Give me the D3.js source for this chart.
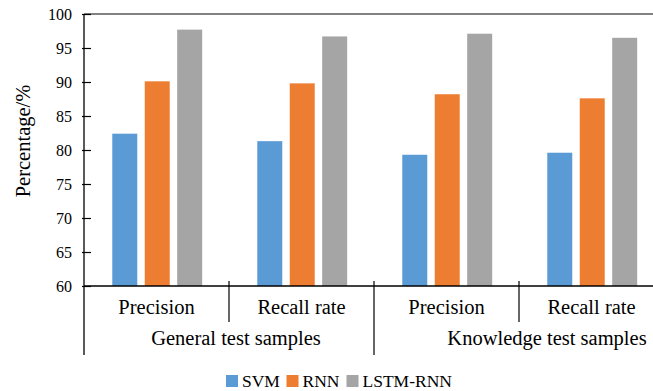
<!DOCTYPE html>
<html>
<head>
<meta charset="utf-8">
<script src="https://cdn.jsdelivr.net/npm/d3@7"></script>
<style>
  html, body { margin: 0; padding: 0; background: #fff; }
  svg { display: block; font-family: "Liberation Serif", "Times New Roman", serif; }
</style>
</head>
<body>
<svg id="chart" width="653" height="391"></svg>
<script>
const groups = ["General test samples", "Knowledge test samples"];
const categories = ["Precision", "Recall rate", "Precision", "Recall rate"];
const series = ["SVM", "RNN", "LSTM-RNN"];
const svmValues = [82.4, 81.3, 79.3, 79.6];
const rnnValues = [90.1, 89.8, 88.2, 87.6];
const lstmValues = [97.7, 96.7, 97.1, 96.5];
const yTicks = [60, 65, 70, 75, 80, 85, 90, 95, 100];
const colors = ["#5B9BD5", "#ED7D31", "#A5A5A5"];

const seriesValues = [svmValues, rnnValues, lstmValues];
const svg = d3.select("#chart");
const mLeft = 84, mRight = 664, mTop = 14, mBottom = 286;
const groupLabelShift = [7, 28];

const x0 = d3.scaleBand().domain(d3.range(categories.length)).range([mLeft, mRight]).padding(0);
const x1 = d3.scaleBand().domain(series)
  .range([x0.bandwidth() * 0.195, x0.bandwidth() * 0.815]).paddingInner(0.23);
const y = d3.scaleLinear().domain([60, 100]).range([mBottom, mTop]);

// top border
svg.append("line").attr("x1", mLeft).attr("x2", 653).attr("y1", y(100)).attr("y2", y(100))
  .attr("stroke", "#595959").attr("stroke-width", 1.5);

// bars
categories.forEach((c, i) => {
  const g = svg.append("g").attr("transform", `translate(${x0(i)},0)`);
  series.forEach((s, j) => {
    const v = seriesValues[j][i];
    g.append("rect").attr("x", x1(s)).attr("width", x1.bandwidth())
      .attr("y", y(v)).attr("height", y(60) - y(v)).attr("fill", colors[j]);
  });
});

// y axis
const yAxis = d3.axisLeft(y).tickValues(yTicks).tickSizeInner(-7).tickSizeOuter(0).tickPadding(12);
const ya = svg.append("g").attr("transform", `translate(${mLeft},0)`).call(yAxis);
ya.select(".domain").remove();
ya.selectAll(".tick line").attr("x1", -2).attr("x2", 7).attr("stroke", "#000").attr("stroke-width", 1.2);
ya.selectAll(".tick text").attr("font-size", 16).attr("fill", "#000")
  .attr("font-family", "Liberation Serif, Times New Roman, serif").attr("x", -12);
svg.append("line").attr("x1", mLeft).attr("x2", mLeft).attr("y1", mTop).attr("y2", 355)
  .attr("stroke", "#000").attr("stroke-width", 1.3);

// x axis baseline
svg.append("line").attr("x1", mLeft).attr("x2", 653).attr("y1", mBottom).attr("y2", mBottom)
  .attr("stroke", "#000").attr("stroke-width", 1.3);

// category dividers and labels
categories.forEach((c, i) => {
  if (i > 0) {
    const isGroup = i % 2 === 0;
    svg.append("line").attr("x1", x0(i)).attr("x2", x0(i))
      .attr("y1", mBottom - 5).attr("y2", isGroup ? 355 : 322)
      .attr("stroke", "#000").attr("stroke-width", 1.2);
  }
  svg.append("text").attr("x", x0(i) + x0.bandwidth() / 2).attr("y", 314)
    .attr("text-anchor", "middle").attr("font-size", 20.5).attr("fill", "#000").text(c);
});
groups.forEach((gname, k) => {
  const cx = (x0(k * 2) + x0(k * 2 + 1) + x0.bandwidth()) / 2 + groupLabelShift[k];
  svg.append("text").attr("x", cx).attr("y", 345)
    .attr("text-anchor", "middle").attr("font-size", 20.5).attr("fill", "#000").text(gname);
});

// y title
svg.append("text").attr("transform", `translate(30,141) rotate(-90)`)
  .attr("text-anchor", "middle").attr("font-size", 20.5).attr("fill", "#000").text("Percentage/%");

// legend
const legendX = [226, 286.5, 346.5];
series.forEach((s, j) => {
  svg.append("rect").attr("x", legendX[j]).attr("y", 375).attr("width", 12).attr("height", 12)
    .attr("fill", colors[j]);
  svg.append("text").attr("x", legendX[j] + 16).attr("y", 387).attr("font-size", 17.5)
    .attr("fill", "#000").text(s);
});
</script>
</body>
</html>
